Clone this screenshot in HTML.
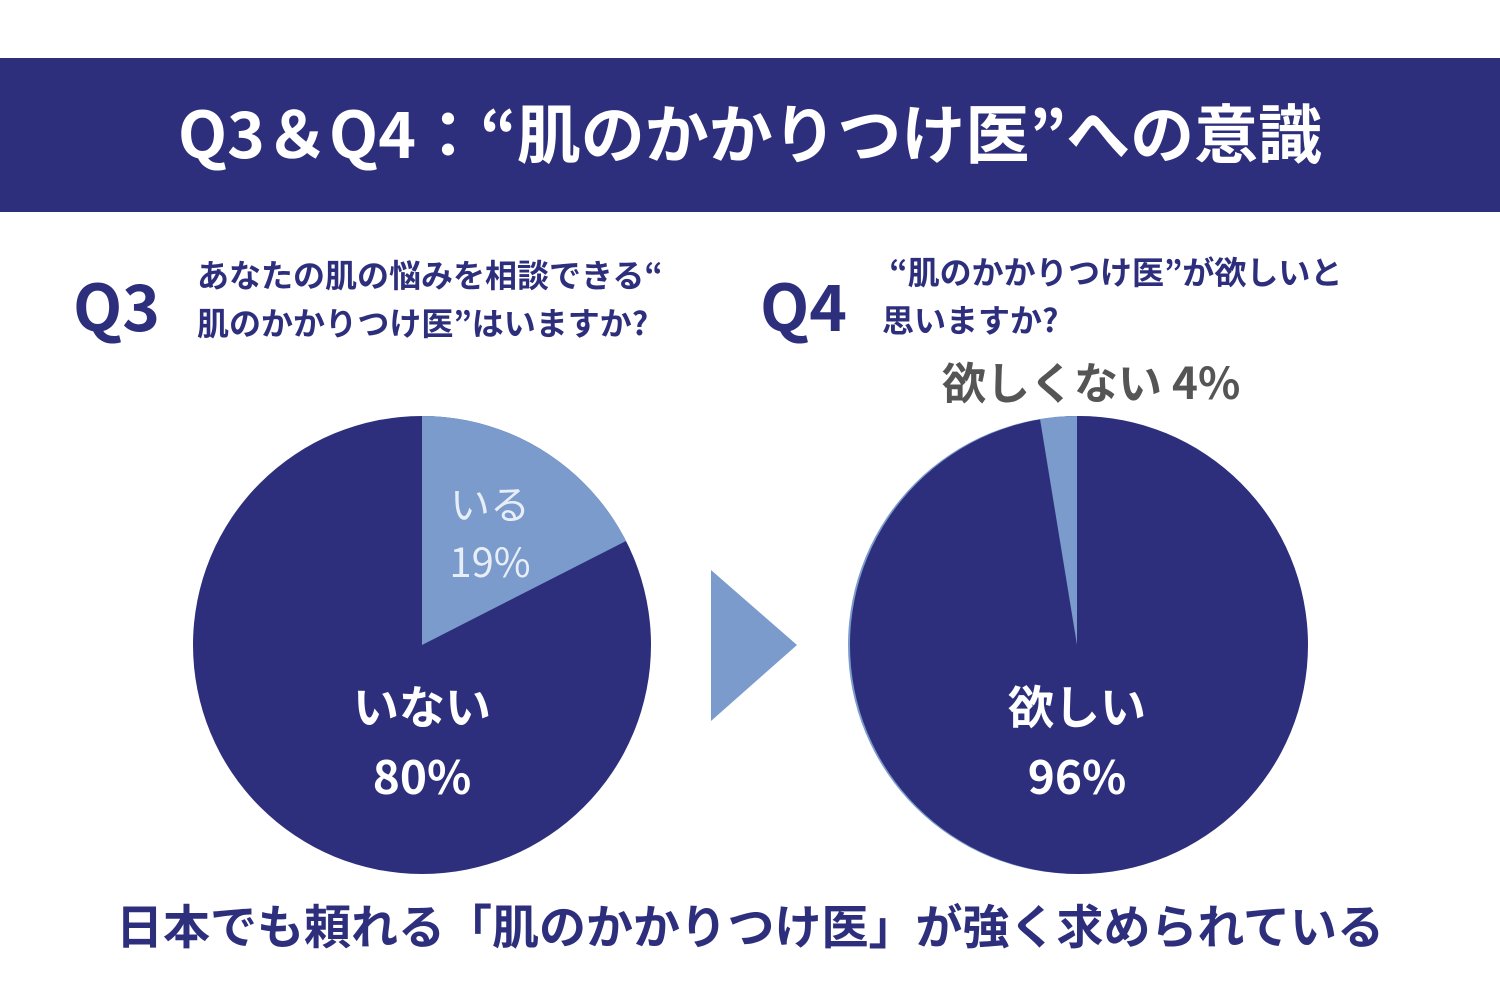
<!DOCTYPE html>
<html><head><meta charset="utf-8"><style>
html,body{margin:0;padding:0;background:#fff}
body{width:1500px;height:1001px;position:relative;overflow:hidden;font-family:"Noto Sans CJK JP","Liberation Sans",sans-serif}
.t{position:absolute;white-space:nowrap;font-weight:bold}
</style></head><body>
<div style="position:absolute;left:0;top:58px;width:1500px;height:154px;background:#2e2f7c"></div>
<div class="t" style="left:0;width:1500px;text-align:center;top:91px;font-size:64px;color:#fff;line-height:80px">Q3＆Q4：“肌のかかりつけ医”への意識</div>
<div class="t" style="left:73px;top:266px;font-size:64px;color:#2e2f7c;line-height:76px">Q3</div>
<div class="t" style="left:197px;top:250px;font-size:32px;color:#2e2f7c;line-height:48px">あなたの肌の悩みを相談できる“<br>肌のかかりつけ医”はいますか?</div>
<div class="t" style="left:760px;top:266px;font-size:64px;color:#2e2f7c;line-height:76px">Q4</div>
<div class="t" style="left:882px;top:247px;font-size:32px;color:#2e2f7c;line-height:48px">&nbsp;“肌のかかりつけ医”が欲しいと<br>思いますか?</div>
<svg style="position:absolute;left:0;top:0" width="1500" height="1001">
<circle cx="422" cy="645" r="229" fill="#2e2f7c"/>
<path d="M422,645 L422,416 A229,229 0 0 1 626,541 Z" fill="#7a9bcb"/>
<polygon points="711,570 797,645 711,721" fill="#7a9bcb"/>
<circle cx="1077" cy="645" r="229" fill="#7a9bcb"/>
<circle cx="1079" cy="645" r="229" fill="#2e2f7c"/>
<path d="M1077,645 L1077,416 A229,229 0 0 0 1040,419 Z" fill="#7a9bcb"/>
</svg>
<div class="t" style="left:390px;width:200px;text-align:center;top:473px;font-size:40px;font-weight:normal;color:#e8eef8;line-height:58px">いる<br>19%</div>
<div class="t" style="left:272px;width:300px;text-align:center;top:670px;font-size:46px;color:#fff;line-height:70px">いない<br>80%</div>
<div class="t" style="left:927px;width:300px;text-align:center;top:670px;font-size:46px;color:#fff;line-height:70px">欲しい<br>96%</div>
<div class="t" style="left:942px;top:352px;font-size:44px;color:#555;line-height:56px">欲しくない 4%</div>
<div class="t" style="left:0;width:1500px;text-align:center;top:893px;font-size:47px;color:#2e2f7c;line-height:62px">日本でも頼れる「肌のかかりつけ医」が強く求められている</div>
</body></html>
